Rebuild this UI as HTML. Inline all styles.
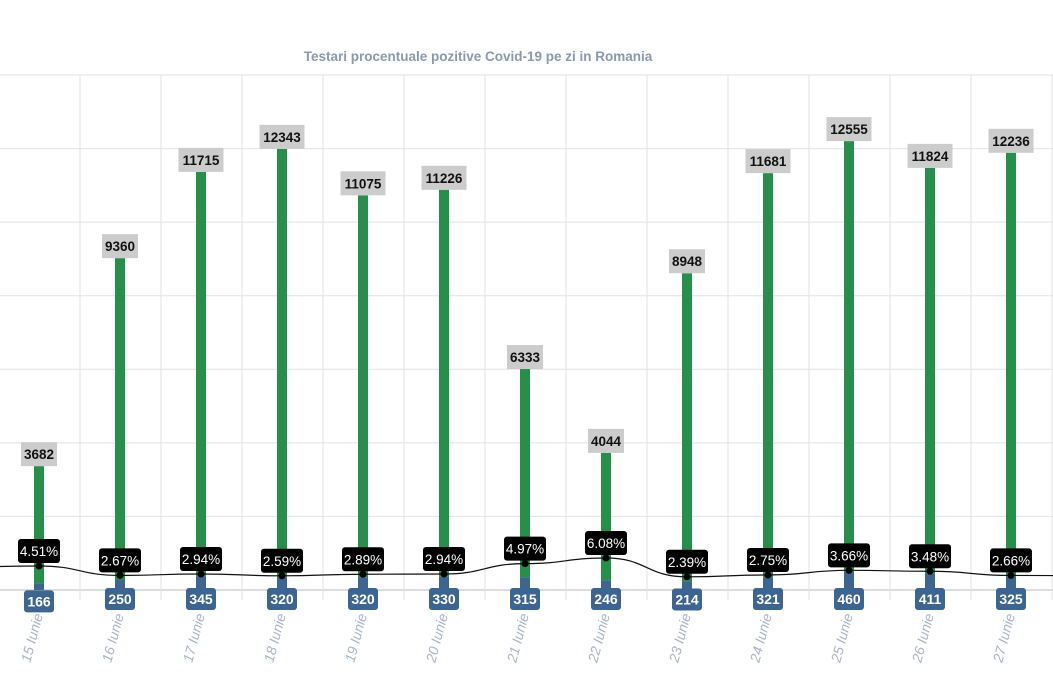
<!DOCTYPE html>
<html><head><meta charset="utf-8"><style>
html,body{margin:0;padding:0;background:#fff}
svg{display:block;font-family:"Liberation Sans",sans-serif}
</style></head><body>
<svg id="s" width="1053" height="674" viewBox="0 0 1053 674" xmlns="http://www.w3.org/2000/svg">
<text x="478" y="61" text-anchor="middle" font-size="13.5" font-weight="bold" fill="#8a99ad">Testari procentuale pozitive Covid-19 pe zi in Romania</text>
</svg>
<script>
const s=document.getElementById('s');const NS='http://www.w3.org/2000/svg';
function el(t,a,txt){const e=document.createElementNS(NS,t);for(const k in a)e.setAttribute(k,a[k]);if(txt!=null)e.textContent=txt;s.appendChild(e);return e;}
const tests=[3682,9360,11715,12343,11075,11226,6333,4044,8948,11681,12555,11824,12236];
const pos=[166,250,345,320,320,330,315,246,214,321,460,411,325];
const pct=[4.51,2.67,2.94,2.59,2.89,2.94,4.97,6.08,2.39,2.75,3.66,3.48,2.66];
for(let i=0;i<8;i++){const y=75+i*73.57;el('line',{x1:0,x2:1053,y1:y,y2:y,stroke:i==7?'#bbb':'#e2e2e2','stroke-width':1});}
for(let i=0;i<13;i++){const x=80+i*81;el('line',{x1:x,x2:x,y1:75,y2:600,stroke:'#e2e2e2','stroke-width':1});}
const cx=i=>39+i*81;
const py=p=>589-5.1*p;
const by=v=>590-v*0.04;
for(let i=0;i<13;i++){
 const x=cx(i),top=601-tests[i]*0.03663,bt=by(pos[i]);
 el('rect',{x:x-5,y:top,width:10,height:bt-top,fill:'#26904a'});
 el('rect',{x:x-5,y:bt,width:10,height:590-bt,fill:'#3d6591'});
}
let d='';const pts=pct.map((p,i)=>[cx(i),py(p)]);
pts.unshift([-42,py(4.3)]);pts.push([1092,py(2.6)]);
d='M'+pts[0][0]+','+pts[0][1];
for(let i=1;i<pts.length;i++){const [x0,y0]=pts[i-1],[x1,y1]=pts[i],m=(x0+x1)/2;d+=` C${m},${y0} ${m},${y1} ${x1},${y1}`;}
el('path',{d:d,fill:'none',stroke:'#111','stroke-width':1.2});
for(let i=0;i<13;i++){
 const x=cx(i),top=601-tests[i]*0.03663,y=py(pct[i]);
 el('circle',{cx:x,cy:y,r:3.5,fill:'#000'});
 const w=tests[i]>=10000?45:36;
 el('rect',{x:x-w/2,y:top-24,width:w,height:24,fill:'#cccccc'});
 el('text',{x:x,y:top-7,'text-anchor':'middle','font-size':13.5,'font-weight':'bold',fill:'#111'},tests[i]);
 el('rect',{x:x-21,y:y-27,width:42,height:24,rx:3,fill:'#000'});
 el('text',{x:x,y:y-10,'text-anchor':'middle','font-size':13.5,fill:'#fff'},pct[i].toFixed(2)+'%');
 const bt=by(pos[i]),bc=Math.max(bt+18,599);
 el('rect',{x:x-15,y:bc-11,width:30,height:22,rx:3,fill:'#3d6591'});
 el('text',{x:x,y:bc+5,'text-anchor':'middle','font-size':14,'font-weight':'bold',fill:'#fff'},pos[i]);
 el('text',{x:x+4,y:615,'text-anchor':'end','font-size':14,'font-style':'italic',fill:'#a8b4c6',transform:`rotate(-75 ${x+4} 615)`},(15+i)+' Iunie');
}
</script>
</body></html>
